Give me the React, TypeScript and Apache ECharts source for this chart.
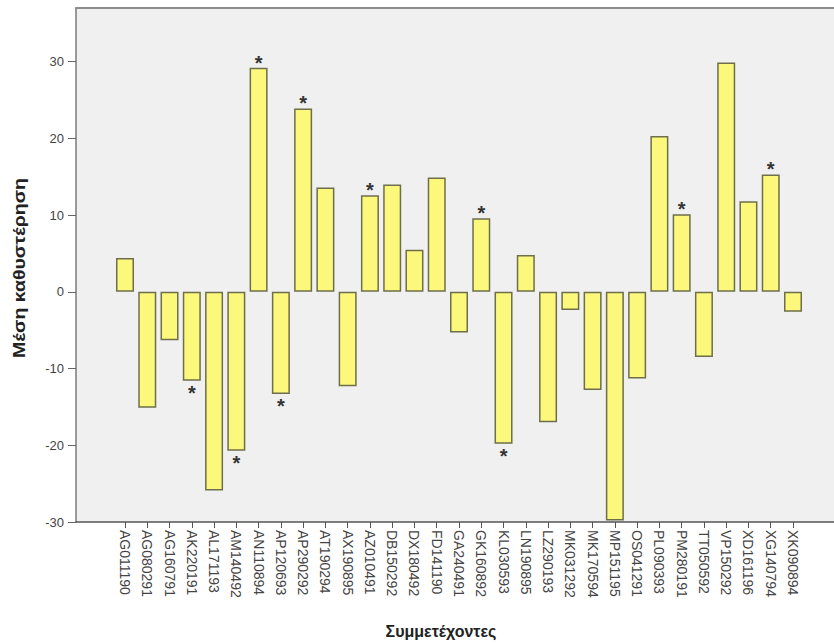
import React, { useEffect, useRef } from "react";
import * as echarts from "echarts";

const categories = [
  "AG011190", "AG080291", "AG160791", "AK220191", "AL171193", "AM140492",
  "AN110894", "AP120693", "AP290292", "AT190294", "AX190895", "AZ010491",
  "DB150292", "DX180492", "FD141190", "GA240491", "GK160892", "KL030593",
  "LN190895", "LZ290193", "MK031292", "MK170594", "MP151195", "OS041291",
  "PL090393", "PM280191", "TT050592", "VP150292", "XD161196", "XG140794",
  "XK090894",
];

const values = [
  4.4, -15.1, -6.3, -11.6, -25.9, -20.7, 29.2, -13.3, 23.9, 13.6, -12.3,
  12.6, 14.0, 5.5, 14.9, -5.3, 9.6, -19.8, 4.8, -17.0, -2.35, -12.8, -29.8,
  -11.3, 20.3, 10.1, -8.5, 29.9, 11.8, 15.3, -2.6,
];

const significant = [
  false, false, false, true, false, true, true, true, true, false, false,
  true, false, false, false, false, true, true, false, false, false, false,
  false, false, false, true, false, false, false, true, false,
];

const yTicks = [-30, -20, -10, 0, 10, 20, 30];
const yMin = -30;
const yMax = 37;
const yName = "Μέση καθυστέρηση";
const xName = "Συμμετέχοντες";

export default function App() {
  const ref = useRef<HTMLDivElement>(null);

  useEffect(() => {
    document.body.style.margin = "0";
    const chart = echarts.init(ref.current!, null, { renderer: "svg" });

    const items = values.map((v, i) => {
      if (!significant[i]) return { value: v };
      const pos = v >= 0 ? "top" : "bottom";
      return {
        value: v,
        label: {
          show: true,
          position: pos,
          formatter: "*",
          fontSize: 20,
          fontWeight: "bold",
          fontFamily: "Liberation Sans",
          color: "#333",
          distance: v >= 0 ? 0 : 2,
          offset: v >= 0 ? [0, 5] : [0, 0],
        },
      };
    });

    const frameAxis = {
      type: "value",
      gridIndex: 1,
      min: 0,
      max: 1,
      axisTick: { show: false },
      axisLabel: { show: false },
      splitLine: { show: false },
    };

    const option: any = {
      animation: false,
      backgroundColor: "#ffffff",
      grid: [
        { left: 113.87, right: 29.87, top: 8, bottom: 121 },
        {
          left: 76,
          right: 0,
          top: 8,
          bottom: 121,
          show: true,
          backgroundColor: "#f0f0f0",
          borderWidth: 0,
        },
      ],
      xAxis: [
        {
          type: "category",
          gridIndex: 0,
          data: categories,
          axisLine: { show: false, onZero: false },
          axisTick: {
            show: true,
            alignWithLabel: true,
            length: 6,
            lineStyle: { color: "#555" },
          },
          axisLabel: {
            rotate: -90,
            margin: 8,
            interval: 0,
            fontSize: 14,
            fontFamily: "Liberation Sans",
            color: "#444",
          },
          splitLine: { show: false },
        },
        {
          ...frameAxis,
          position: "bottom",
          axisLine: { show: true, onZero: false, lineStyle: { color: "#555", width: 1.5 } },
        },
        {
          ...frameAxis,
          position: "top",
          axisLine: { show: true, onZero: false, lineStyle: { color: "#8c8c8c", width: 2 } },
        },
      ],
      yAxis: [
        { type: "value", gridIndex: 0, min: yMin, max: yMax, show: false, splitLine: { show: false } },
        {
          type: "value",
          gridIndex: 1,
          min: yMin,
          max: yMax,
          interval: 10,
          axisLine: { show: true, onZero: false, lineStyle: { color: "#7a7a7a", width: 1.5 } },
          axisTick: {
            show: true,
            length: 8,
            customValues: yTicks,
            lineStyle: { color: "#666" },
          },
          axisLabel: {
            customValues: yTicks,
            margin: 12,
            fontSize: 13,
            fontFamily: "Liberation Sans",
            color: "#444",
          },
          splitLine: { show: false },
        },
      ],
      graphic: [
        {
          type: "text",
          x: 20,
          y: 268,
          rotation: Math.PI / 2,
          scaleX: 1.22,
          style: {
            text: yName,
            font: 'bold 16px "Liberation Sans"',
            fill: "#222",
            textAlign: "center",
            textVerticalAlign: "middle",
            align: "center",
            verticalAlign: "middle",
          },
        },
        {
          type: "text",
          x: 441,
          y: 631,
          style: {
            text: xName,
            font: 'bold 16px "Liberation Sans"',
            fill: "#222",
            textAlign: "center",
            textVerticalAlign: "middle",
            align: "center",
            verticalAlign: "middle",
          },
        },
      ],
      series: [
        {
          type: "bar",
          xAxisIndex: 0,
          yAxisIndex: 0,
          barWidth: 18,
          data: items,
          itemStyle: { color: "#fbf87c", borderColor: "#6e6e4a", borderWidth: 1.5 },
        },
      ],
    };

    chart.setOption(option);
    return () => chart.dispose();
  }, []);

  return <div ref={ref} style={{ width: 834, height: 643 }} />;
}
